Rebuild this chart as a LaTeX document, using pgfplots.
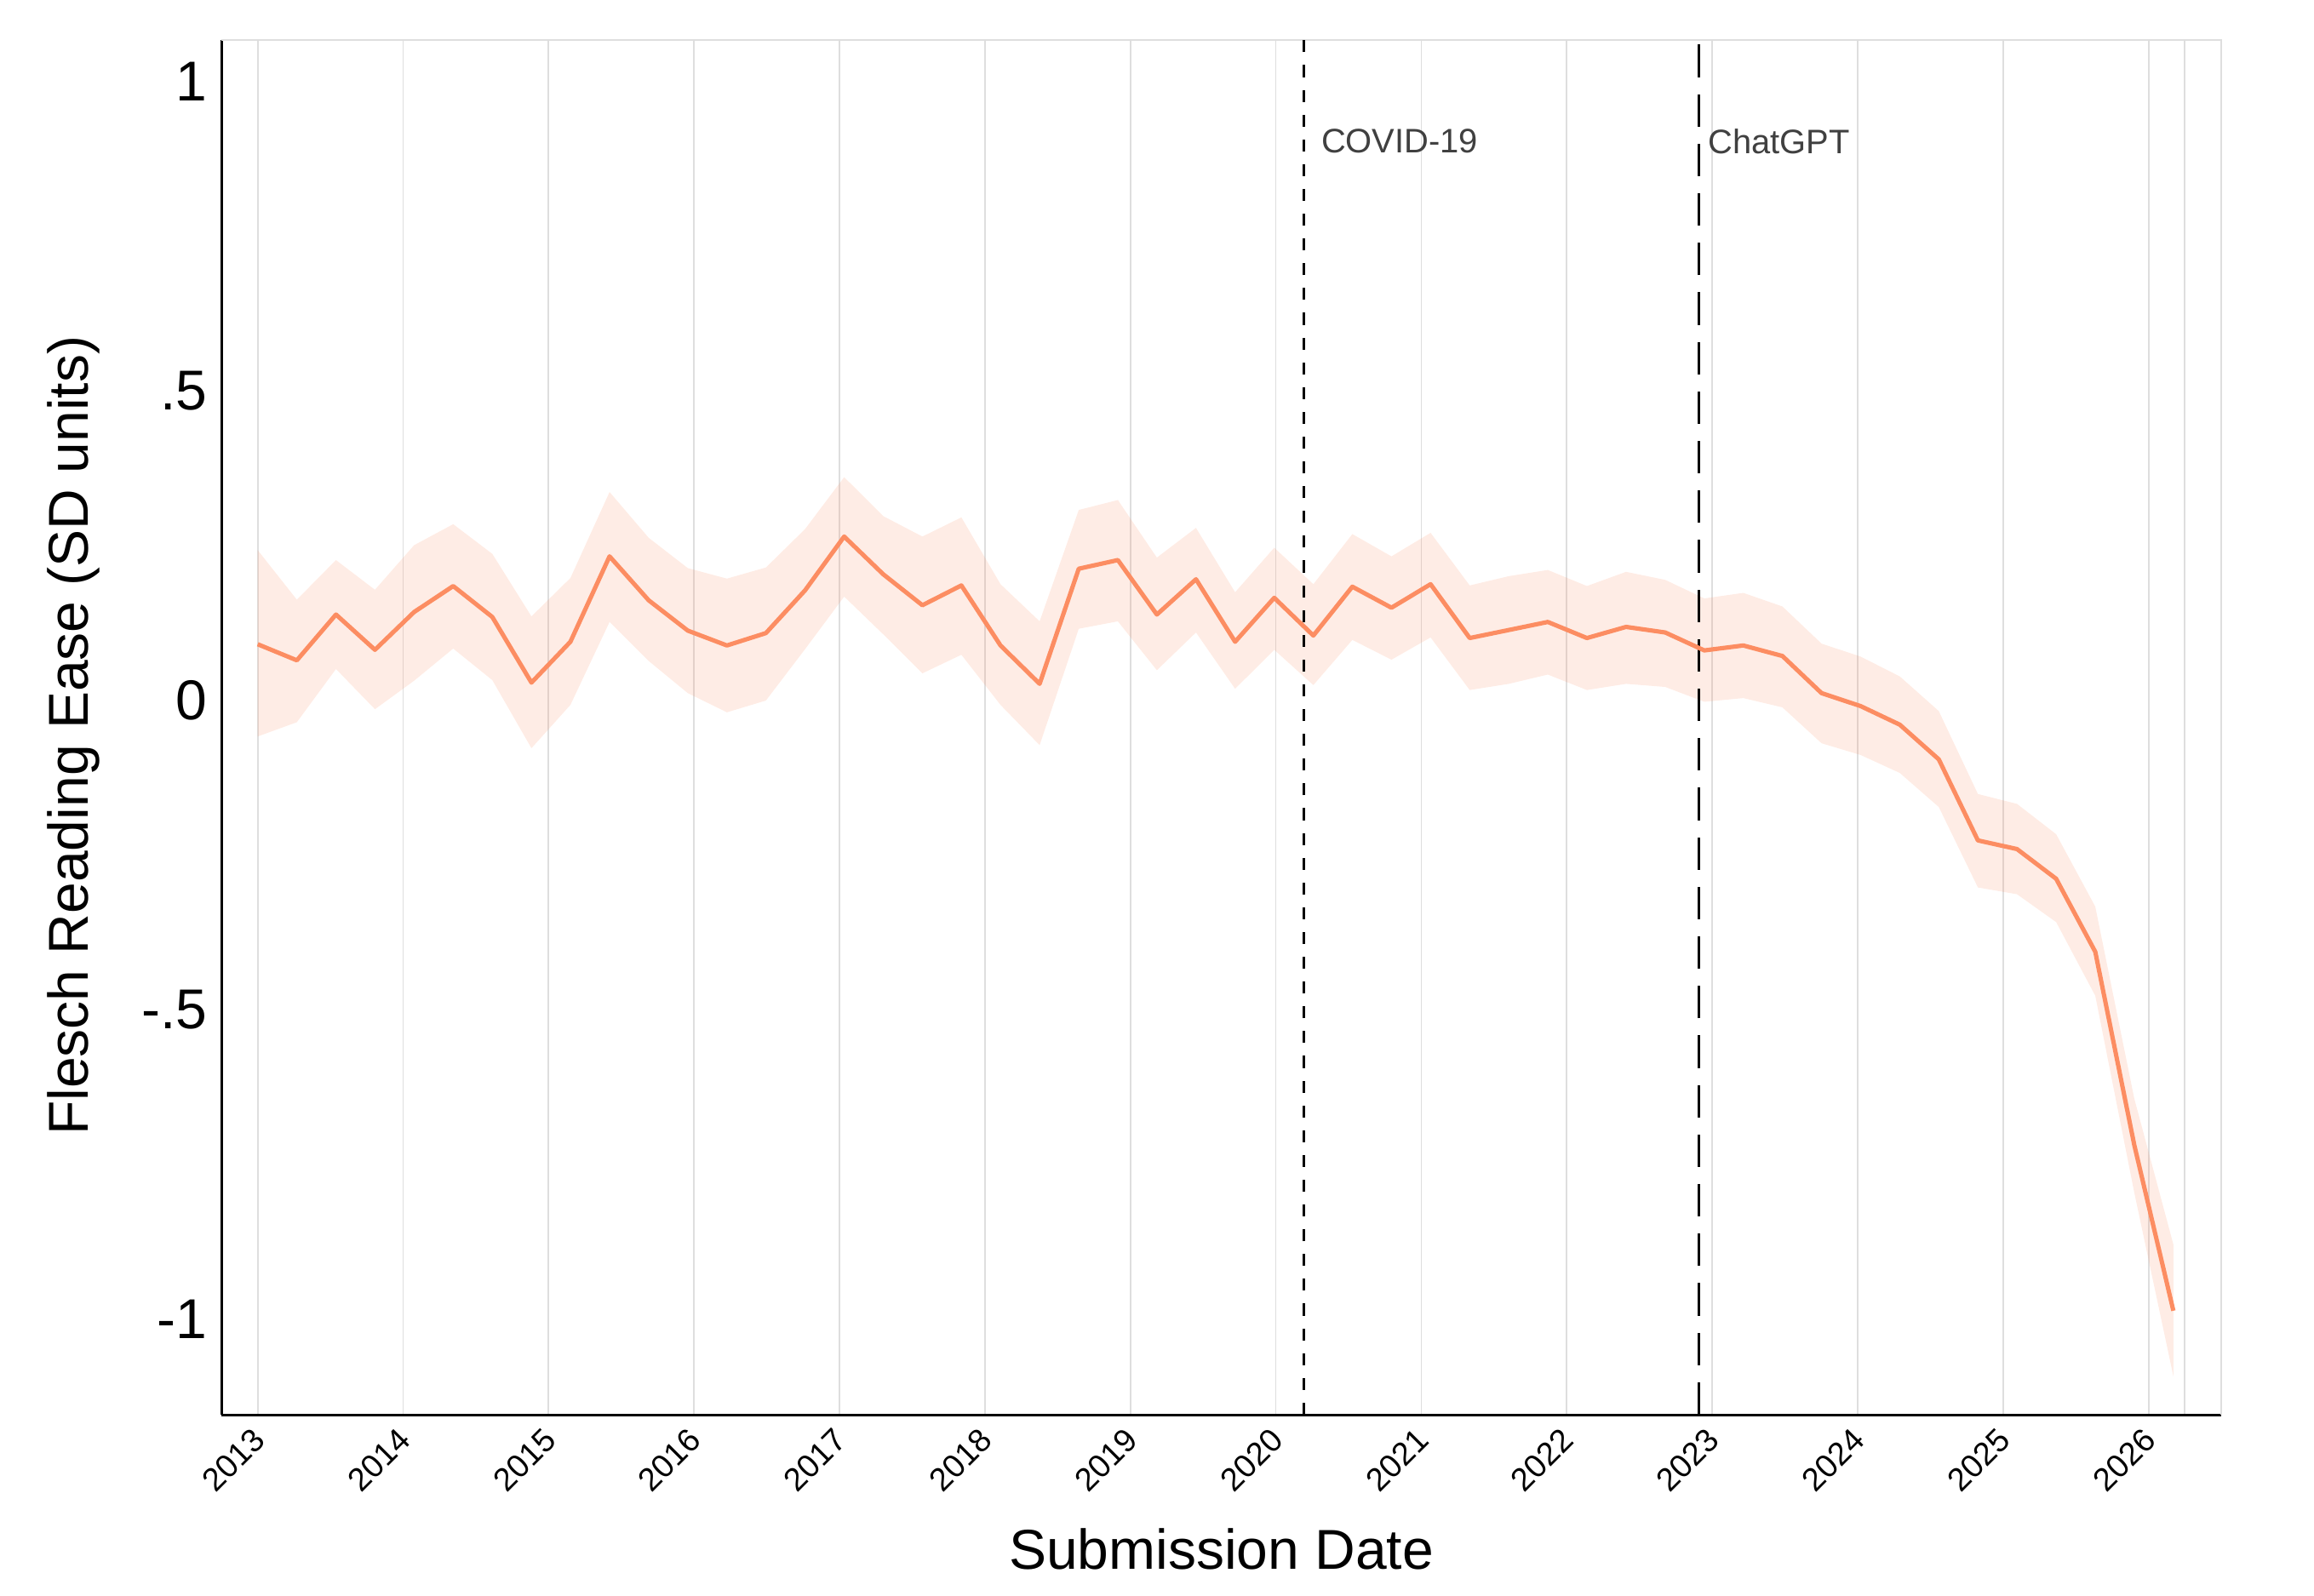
\documentclass[border=0pt]{standalone}
\usepackage{fontspec}
\setmainfont{Liberation Sans}
\usepackage{pgfplots}
\pgfplotsset{compat=1.18}
\usepackage{pgfplotstable}
\usepgfplotslibrary{fillbetween}
\definecolor{lineor}{RGB}{252,141,98}
\definecolor{gridc}{RGB}{222,222,222}
\definecolor{txtc}{RGB}{64,64,64}

\pgfplotstableread{
x y lo hi
2013.000 0.091 -0.058 0.243
2013.269 0.065 -0.035 0.163
2013.538 0.139 0.051 0.227
2013.806 0.082 -0.014 0.179
2014.075 0.143 0.032 0.251
2014.344 0.185 0.084 0.285
2014.613 0.135 0.033 0.237
2014.882 0.029 -0.077 0.136
2015.150 0.095 -0.007 0.198
2015.419 0.233 0.127 0.337
2015.688 0.162 0.064 0.263
2015.957 0.113 0.012 0.214
2016.226 0.089 -0.019 0.197
2016.494 0.109 0.000 0.215
2016.763 0.178 0.083 0.277
2017.032 0.265 0.168 0.361
2017.301 0.204 0.107 0.298
2017.570 0.154 0.044 0.265
2017.838 0.186 0.074 0.296
2018.107 0.089 -0.007 0.188
2018.376 0.027 -0.072 0.128
2018.645 0.213 0.116 0.308
2018.914 0.227 0.128 0.324
2019.182 0.139 0.049 0.231
2019.451 0.196 0.110 0.279
2019.720 0.095 0.019 0.175
2019.989 0.166 0.082 0.247
2020.258 0.105 0.025 0.188
2020.526 0.184 0.098 0.269
2020.795 0.150 0.066 0.233
2021.064 0.188 0.102 0.271
2021.333 0.101 0.017 0.186
2021.602 0.114 0.027 0.201
2021.870 0.127 0.042 0.211
2022.139 0.101 0.017 0.185
2022.408 0.119 0.027 0.208
2022.677 0.110 0.022 0.195
2022.946 0.081 -0.002 0.165
2023.214 0.089 0.004 0.174
2023.483 0.072 -0.011 0.152
2023.752 0.012 -0.069 0.092
2024.021 -0.009 -0.088 0.071
2024.290 -0.039 -0.117 0.039
2024.558 -0.095 -0.172 -0.017
2024.827 -0.226 -0.302 -0.151
2025.096 -0.240 -0.313 -0.167
2025.365 -0.288 -0.358 -0.216
2025.634 -0.406 -0.477 -0.333
2025.902 -0.718 -0.795 -0.643
2026.171 -0.986 -1.092 -0.879
}\datatab

\begin{document}
\begin{tikzpicture}
\begin{axis}[
  scale only axis,
  width=783bp, height=538.33bp,
  xmin=2012.75, xmax=2026.5,
  ymin=-1.154, ymax=1.0674,
  axis lines=left,
  axis line style={-, black, line width=1bp},
  major tick length=0pt,
  xtick={2013,2014,2015,2016,2017,2018,2019,2020,2021,2022,2023,2024,2025,2026},
  xticklabels={2013,2014,2015,2016,2017,2018,2019,2020,2021,2022,2023,2024,2025,2026},
  extra x ticks={2026.25},
  extra x tick labels={},
  extra x tick style={grid=major},
  ytick={-1,-0.5,0,0.5,1},
  yticklabels={-1,-.5,0,.5,1},
  /pgf/number format/assume math mode=true,
  xmajorgrids,
  grid style={gridc, line width=0.6bp},
  xticklabel style={font=\fontsize{12.7bp}{15bp}\selectfont, xshift=0.6bp, yshift=-7.5bp, rotate=45, anchor=east, inner sep=0pt},
  yticklabel style={font=\fontsize{22bp}{26bp}\selectfont, anchor=east, inner sep=0pt, xshift=-5.3bp},
  xlabel={Submission Date},
  xlabel style={font=\fontsize{22bp}{26bp}\selectfont, at={(axis description cs:0.5,-0.0979)}, anchor=center},
  ylabel={Flesch Reading Ease (SD units)},
  ylabel style={font=\fontsize{22bp}{26bp}\selectfont, at={(axis description cs:-0.0737,0.494)}, anchor=center},
  clip=false,
]
\addplot[name path=hi, draw=none, forget plot] table[x=x, y=hi] {\datatab};
\addplot[name path=lo, draw=none, forget plot] table[x=x, y=lo] {\datatab};
\addplot[fill=lineor, fill opacity=0.17, draw=none, forget plot] fill between[of=hi and lo];
\draw[gridc, line width=0.6bp] (rel axis cs:0,1) -- (rel axis cs:1,1) -- (rel axis cs:1,0);
\draw[black, line width=1bp, dash pattern=on 4.7bp off 5bp] (axis cs:2020.19,-1.154) -- (axis cs:2020.19,1.0674);
\draw[black, line width=1bp, dash pattern=on 12.7bp off 6.7bp] (axis cs:2022.91,-1.154) -- (axis cs:2022.91,1.0674);
\addplot[lineor, line width=1.7bp, mark=none, line join=round] table[x=x, y=y] {\datatab};
\node[anchor=west, inner sep=0pt, font=\fontsize{13.3bp}{16bp}\selectfont, text=txtc] at (axis cs:2020.31,0.904) {COVID-19};
\node[anchor=west, inner sep=0pt, font=\fontsize{13.3bp}{16bp}\selectfont, text=txtc] at (axis cs:2022.97,0.904) {ChatGPT};
\end{axis}
\path[use as bounding box] ([shift={(-86.67bp,-70.67bp)}]current axis.south west) rectangle ([shift={(36.33bp,15.67bp)}]current axis.north east);
\end{tikzpicture}
\end{document}
